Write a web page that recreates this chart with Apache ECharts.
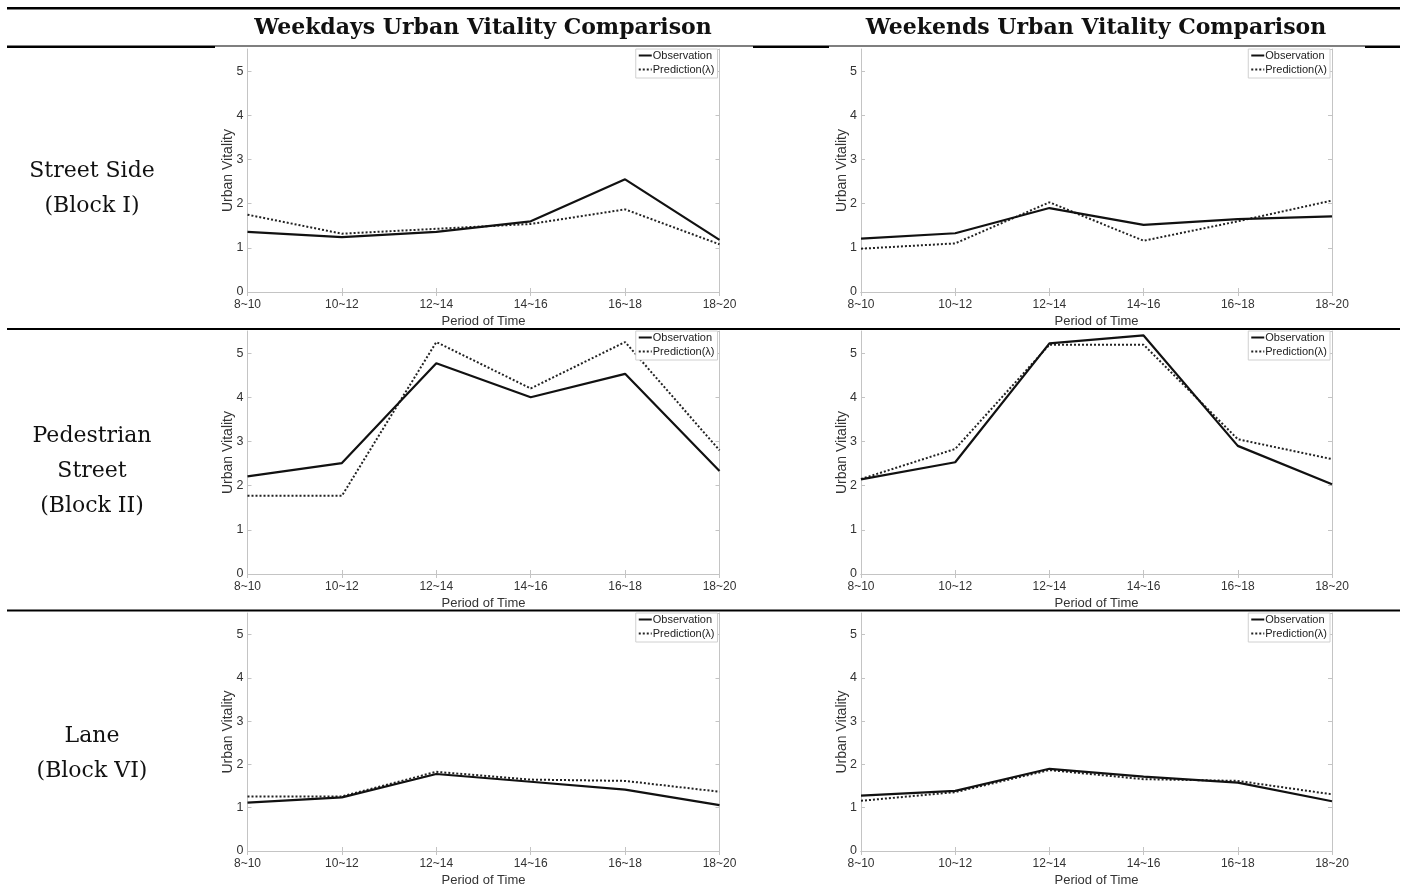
<!DOCTYPE html>
<html>
<head>
<meta charset="utf-8">
<script src="https://cdn.jsdelivr.net/npm/echarts@6/dist/echarts.min.js"></script>
<style>
  html, body { margin: 0; padding: 0; background: #fff; }
  #main { width: 1407px; height: 888px; }
</style>
</head>
<body>
<div id="main"></div>
<script>
  // x categories
  const categories = ['8~10', '10~12', '12~14', '14~16', '16~18', '18~20'];

  // Street Side (Block I)
  const weekdayStreetObs = [1.36, 1.24, 1.36, 1.60, 2.55, 1.18];
  const weekdayStreetPred = [1.75, 1.32, 1.43, 1.54, 1.87, 1.08];
  const weekendStreetObs = [1.21, 1.33, 1.90, 1.52, 1.65, 1.71];
  const weekendStreetPred = [0.98, 1.10, 2.03, 1.16, 1.60, 2.07];

  // Pedestrian Street (Block II)
  const weekdayPedObs = [2.21, 2.51, 4.77, 4.00, 4.53, 2.33];
  const weekdayPedPred = [1.77, 1.77, 5.25, 4.20, 5.25, 2.80];
  const weekendPedObs = [2.14, 2.53, 5.22, 5.40, 2.90, 2.03];
  const weekendPedPred = [2.15, 2.83, 5.19, 5.19, 3.05, 2.60];

  // Lane (Block VI)
  const weekdayLaneObs = [1.12, 1.24, 1.78, 1.60, 1.42, 1.06];
  const weekdayLanePred = [1.26, 1.26, 1.83, 1.65, 1.62, 1.37];
  const weekendLaneObs = [1.28, 1.39, 1.90, 1.72, 1.58, 1.15];
  const weekendLanePred = [1.16, 1.36, 1.87, 1.66, 1.62, 1.31];

  const yTicks = [0, 1, 2, 3, 4, 5];
  const seriesNames = ['Observation', 'Prediction(λ)'];
  const columnTitles = ['Weekdays Urban Vitality Comparison', 'Weekends Urban Vitality Comparison'];
  const rowTitles = [['Street Side', '(Block I)'], ['Pedestrian', 'Street', '(Block II)'], ['Lane', '(Block VI)']];

  const panels = [
    [weekdayStreetObs, weekdayStreetPred], [weekendStreetObs, weekendStreetPred],
    [weekdayPedObs, weekdayPedPred], [weekendPedObs, weekendPedPred],
    [weekdayLaneObs, weekdayLanePred], [weekendLaneObs, weekendLanePred]
  ];

  const colLeft = [247.5, 861];
  const colWidth = [472, 471];
  const rowTop = [49, 331, 613];
  const plotH = 243;

  const boxColor = '#c4c4c4';
  const labelColor = '#333';
  const sans = 'Liberation Sans, Arial, sans-serif';
  const serif = 'DejaVu Serif, serif';

  let chart = echarts.init(document.getElementById('main'));

  let grid = [], xAxis = [], yAxis = [], series = [], legend = [];

  panels.forEach((p, i) => {
    let r = Math.floor(i / 2), c = i % 2;
    grid.push({ left: colLeft[c], top: rowTop[r], width: colWidth[c], height: plotH, containLabel: false });

    let tick = { show: true, inside: true, length: 4, lineStyle: { color: boxColor } };
    let line = { show: true, lineStyle: { color: boxColor, width: 1 } };

    xAxis.push({
      type: 'category', gridIndex: i, data: categories, boundaryGap: false, position: 'bottom',
      axisLine: line, axisTick: tick,
      axisLabel: { color: labelColor, fontFamily: sans, fontSize: 12, margin: 7 },
      splitLine: { show: false },
      name: 'Period of Time', nameLocation: 'middle', nameGap: 23, nameMoveOverlap: false,
      nameTextStyle: { color: labelColor, fontFamily: sans, fontSize: 13 }
    });
    xAxis.push({
      type: 'category', gridIndex: i, data: categories, boundaryGap: false, position: 'top',
      axisLine: line, axisTick: tick, axisLabel: { show: false }, splitLine: { show: false }
    });
    yAxis.push({
      type: 'value', gridIndex: i, min: yTicks[0], max: 5.5, interval: 1, position: 'left',
      axisLine: line, axisTick: tick,
      axisLabel: { color: labelColor, fontFamily: sans, fontSize: 12.5, margin: 4, showMaxLabel: false },
      splitLine: { show: false },
      name: 'Urban Vitality', nameLocation: 'middle', nameGap: 12, nameMoveOverlap: false,
      nameTextStyle: { color: labelColor, fontFamily: sans, fontSize: 14 }
    });
    yAxis.push({
      type: 'value', gridIndex: i, min: yTicks[0], max: 5.5, interval: 1, position: 'right',
      axisLine: line, axisTick: tick, axisLabel: { show: false }, splitLine: { show: false }
    });

    series.push({
      name: seriesNames[0], type: 'line', xAxisIndex: 2 * i, yAxisIndex: 2 * i,
      data: p[0], symbol: 'none', silent: true, z: 3,
      lineStyle: { color: '#111', width: 2.2 }, itemStyle: { color: '#111' }
    });
    series.push({
      name: seriesNames[1], type: 'line', xAxisIndex: 2 * i, yAxisIndex: 2 * i,
      data: p[1], symbol: 'none', silent: true, z: 2,
      lineStyle: { color: '#222', width: 2, type: [2, 2] }, itemStyle: { color: '#222' }
    });

    legend.push({
      data: seriesNames, orient: 'vertical',
      right: 1407 - (colLeft[c] + colWidth[c]) + 2, top: rowTop[r],
      itemWidth: 13, itemHeight: 2, itemGap: 3,
      itemStyle: { opacity: 0 },
      padding: [1, 3, 3, 2], borderColor: '#d0d0d0', borderWidth: 1, backgroundColor: '#fff',
      textStyle: { color: '#222', fontFamily: sans, fontSize: 11, padding: [0, 0, 0, -4] },
      selectedMode: false
    });
  });

  // table rules and texts
  let graphics = [
    { type: 'rect', shape: { x: 7, y: 7, width: 1393, height: 2.5 }, style: { fill: '#000' } },
    { type: 'rect', shape: { x: 7, y: 45.5, width: 1393, height: 1 }, style: { fill: '#000' } },
    { type: 'rect', shape: { x: 7, y: 46, width: 208, height: 2 }, style: { fill: '#000' } },
    { type: 'rect', shape: { x: 753, y: 46, width: 76, height: 2 }, style: { fill: '#000' } },
    { type: 'rect', shape: { x: 1365, y: 46, width: 35, height: 2 }, style: { fill: '#000' } },
    { type: 'rect', shape: { x: 7, y: 328, width: 1393, height: 2 }, style: { fill: '#000' } },
    { type: 'rect', shape: { x: 7, y: 609.5, width: 1393, height: 2 }, style: { fill: '#000' } }
  ];
  const titleX = [483, 1096];
  columnTitles.forEach((t, c) => {
    graphics.push({
      type: 'text', x: titleX[c], y: 28,
      style: { text: t, fill: '#111', font: 'bold 22px ' + serif, align: 'center', verticalAlign: 'middle' }
    });
  });
  const rowCenter = [189, 471, 754];
  const lineGap = 35;
  rowTitles.forEach((lines, r) => {
    lines.forEach((t, k) => {
      graphics.push({
        type: 'text', x: 92, y: rowCenter[r] + (k - (lines.length - 1) / 2) * lineGap,
        style: { text: t, fill: '#111', font: '22px ' + serif, align: 'center', verticalAlign: 'middle' }
      });
    });
  });

  let option = {
    backgroundColor: '#fff',
    animation: false,
    grid: grid,
    xAxis: xAxis,
    yAxis: yAxis,
    legend: legend,
    series: series,
    graphic: graphics
  };
  chart.setOption(option);
</script>
</body>
</html>
